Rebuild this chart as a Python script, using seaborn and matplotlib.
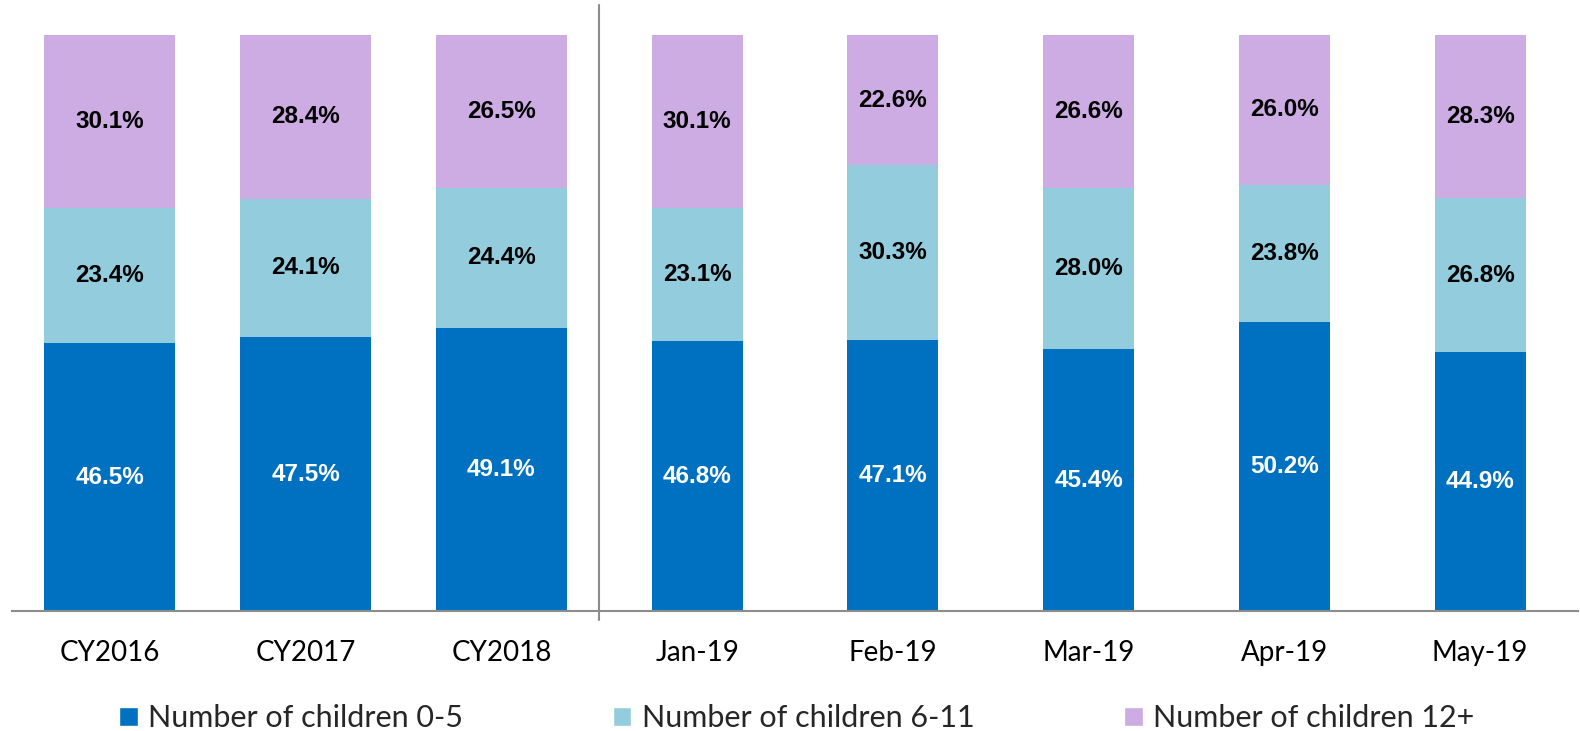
import matplotlib
matplotlib.use("Agg")
import matplotlib.pyplot as plt
from matplotlib.patches import Patch
import seaborn as sns
import numpy as np

# data
periods = ["CY2016", "CY2017", "CY2018", "Jan-19", "Feb-19", "Mar-19", "Apr-19", "May-19"]
age_0_5 = [46.5, 47.5, 49.1, 46.8, 47.1, 45.4, 50.2, 44.9]
age_6_11 = [23.4, 24.1, 24.4, 23.1, 30.3, 28.0, 23.8, 26.8]
age_12_plus = [30.1, 28.4, 26.5, 30.1, 22.6, 26.6, 26.0, 28.3]
series_names = ["Number of children 0-5", "Number of children 6-11", "Number of children 12+"]

colors = ["#0070C0", "#93CDDD", "#CDABE3"]
n_years = 3  # yearly bars (left group) are wider than the monthly ones

sns.set_style("white")
plt.rcParams["font.family"] = ["Lato", "DejaVu Sans"]

fig = plt.figure(figsize=(15.8, 7.31), dpi=100)
ax = fig.add_axes([12 / 1580, 120 / 731, 1566 / 1580, 576 / 731])

a = np.array(age_0_5)
b = np.array(age_6_11)
c = np.array(age_12_plus)
layers = [a + b + c, a + b, a]
layer_colors = [colors[2], colors[1], colors[0]]

# stacked look by overdrawing cumulative totals
for vals, col in zip(layers, layer_colors):
    sns.barplot(x=periods[:n_years], y=vals[:n_years], order=periods, width=0.67,
                color=col, saturation=1, errorbar=None, ax=ax, linewidth=0)
    sns.barplot(x=periods[n_years:], y=vals[n_years:], order=periods, width=0.465,
                color=col, saturation=1, errorbar=None, ax=ax, linewidth=0)

# value labels
lab = dict(ha="center", va="center", fontsize=17.5, fontweight="bold", family="Liberation Sans")
for i in range(len(periods)):
    ax.text(i, a[i] / 2, f"{a[i]:.1f}%", color="white", **lab)
    ax.text(i, a[i] + b[i] / 2, f"{b[i]:.1f}%", color="black", **lab)
    ax.text(i, a[i] + b[i] + c[i] / 2, f"{c[i]:.1f}%", color="black", **lab)

ax.set_xlim(-0.5, len(periods) - 0.5)
ax.set_ylim(0, 100)
ax.set_yticks([])
ax.set_xlabel("")
ax.set_ylabel("")

axis_gray = "#8C8C8C"
for side in ["left", "right", "top"]:
    ax.spines[side].set_visible(False)
ax.spines["bottom"].set_color(axis_gray)
ax.spines["bottom"].set_linewidth(1.5)

ax.set_xticks(range(len(periods)))
ax.set_xticklabels(periods, fontsize=20)
ax.set_xticks(np.arange(-0.5, len(periods)), minor=True)
ax.tick_params(axis="x", which="major", length=0, pad=21, colors="black")
ax.tick_params(axis="x", which="minor", length=9, width=1.5, color=axis_gray)

# divider between yearly and monthly bars
ax.plot([n_years - 0.5, n_years - 0.5], [-1.5, 105.2], color=axis_gray, lw=1.5, clip_on=False)

handles = [Patch(facecolor=col, label=name) for col, name in zip(colors, series_names)]
fig.legend(handles=handles, loc="center", bbox_to_anchor=(797 / 1580, 1 - 718 / 731), ncol=3,
           frameon=False, fontsize=22, handlelength=0.6, handleheight=0.6,
           handletextpad=0.35, columnspacing=4.9)

fig.savefig("out.png", dpi=100)
